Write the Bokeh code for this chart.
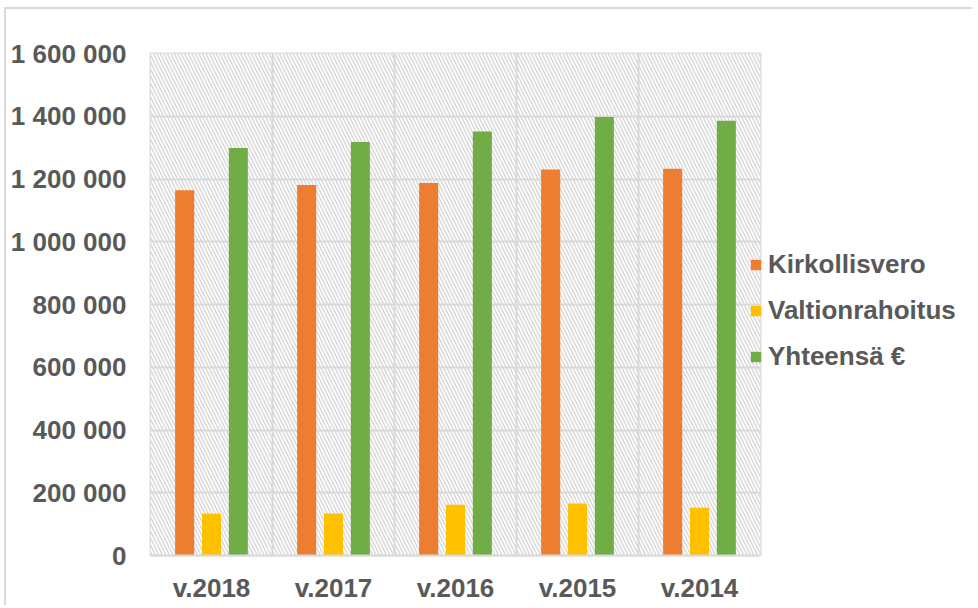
from bokeh.plotting import figure
from bokeh.layouts import row
from bokeh.models import (FactorRange, BoxAnnotation, Span, Legend, LegendItem,
                          CustomJSTickFormatter, FixedTicker, ColumnDataSource)
from bokeh.transform import dodge
from bokeh.embed import file_html
from bokeh.resources import INLINE

years = ["v.2018", "v.2017", "v.2016", "v.2015", "v.2014"]
kirkollisvero = [1164000, 1181000, 1187000, 1230000, 1233000]
valtionrahoitus = [133000, 134000, 162000, 166000, 152000]
yhteensa = [1299000, 1318000, 1351000, 1398000, 1386000]
y_ticks = [0, 200000, 400000, 600000, 800000, 1000000, 1200000, 1400000, 1600000]
series_names = ["Kirkollisvero", "Valtionrahoitus", "Yhteensä €"]
series_colors = ["#ed7d31", "#ffc000", "#70ad47"]

source = ColumnDataSource(dict(year=years, k=kirkollisvero, v=valtionrahoitus, y=yhteensa))

TXT = "#595959"
GRID = "#d9d9d9"
FONT = "Liberation Sans"
H = 596

p = figure(x_range=FactorRange(*years), y_range=(0, 1600000),
           width=756, height=H, output_backend="svg", toolbar_location=None,
           min_border_left=144, min_border_right=2, min_border_top=44, min_border_bottom=50)
p.background_fill_color = "white"
p.border_fill_color = "white"
p.outline_line_color = GRID
p.outline_line_width = 2

# hatched plot-area background
p.add_layout(BoxAnnotation(fill_color="white", fill_alpha=1.0, line_color=None,
                           hatch_pattern="left_diagonal_line", hatch_color=GRID,
                           hatch_scale=7, hatch_weight=1.5, level="image"))

p.xgrid.grid_line_color = None
p.ygrid.grid_line_color = GRID
p.ygrid.grid_line_width = 2
p.ygrid.level = "underlay"
for b in [1, 2, 3, 4]:
    p.add_layout(Span(location=b, dimension="height", line_color=GRID, line_width=2, level="underlay"))

bw = 0.156
p.vbar(x=dodge("year", -0.22, range=p.x_range), top="k", width=bw, source=source,
       fill_color=series_colors[0], line_color=None)
p.vbar(x=dodge("year", 0.0, range=p.x_range), top="v", width=bw, source=source,
       fill_color=series_colors[1], line_color=None)
p.vbar(x=dodge("year", 0.22, range=p.x_range), top="y", width=bw, source=source,
       fill_color=series_colors[2], line_color=None)

p.yaxis.ticker = FixedTicker(ticks=y_ticks)
p.yaxis.formatter = CustomJSTickFormatter(code="return Math.round(tick).toString().replace(/\\B(?=(\\d{3})+(?!\\d))/g, ' ');")
for ax in (p.xaxis, p.yaxis):
    ax.major_label_text_font = FONT
    ax.major_label_text_font_style = "bold"
    ax.major_label_text_font_size = "26px"
    ax.major_label_text_color = TXT
    ax.major_tick_line_color = None
    ax.minor_tick_line_color = None
    ax.major_tick_out = 0
    ax.major_tick_in = 0
p.yaxis.axis_line_color = None
p.yaxis.major_label_standoff = 24
p.xaxis.axis_line_color = GRID
p.xaxis.axis_line_width = 2
p.xaxis.major_label_standoff = 17

# legend panel (transparent, slightly overlapping the plot's right edge)
p2 = figure(width=224, height=H, output_backend="svg", toolbar_location=None,
            min_border=0, x_range=(0, 1), y_range=(0, 1),
            styles={"margin-left": "-14px"})
p2.axis.visible = False
p2.grid.grid_line_color = None
p2.outline_line_color = None
p2.background_fill_alpha = 0
p2.border_fill_alpha = 0
items = []
for name, col in zip(series_names, series_colors):
    r = p2.vbar(x=[5], top=[0.5], width=0.1, fill_color=col, line_color=None)
    items.append(LegendItem(label=name, renderers=[r]))
legend = Legend(items=items, location=(1, 183), padding=0, margin=0, spacing=15,
                glyph_width=13, glyph_height=13, label_standoff=6,
                label_text_font=FONT, label_text_font_style="bold",
                label_text_font_size="26px", label_text_color=TXT,
                border_line_color=None, background_fill_alpha=0)
p2.add_layout(legend)

layout = row(p, p2, spacing=0,
             styles={"border-top": "2px solid #d9d9d9", "border-left": "2px solid #d9d9d9",
                     "margin-left": "4px", "margin-top": "7px"})

open("out.html", "w").write(file_html(layout, INLINE))
